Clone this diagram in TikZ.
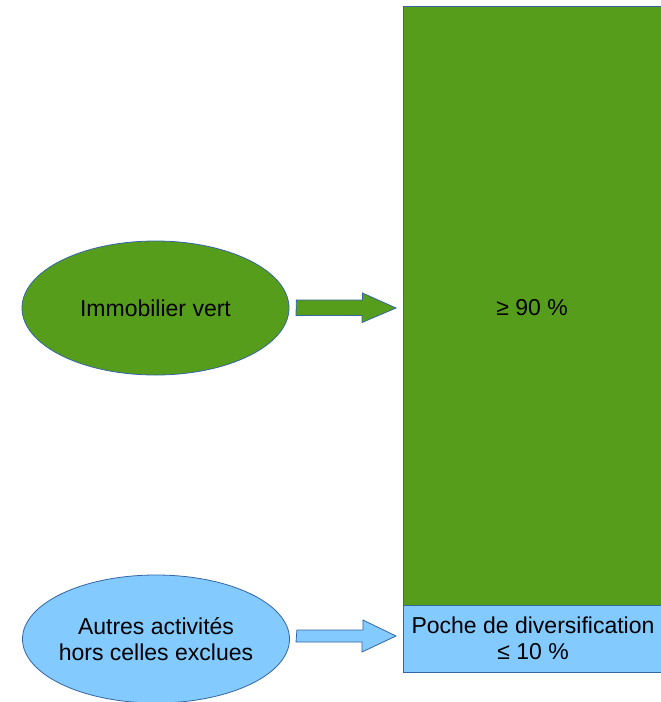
\documentclass[tikz,border=0pt]{standalone}
\usepackage{fontspec}
\setmainfont{Liberation Sans}
\usetikzlibrary{shapes.geometric}
\definecolor{vert}{HTML}{579D1C}
\definecolor{bleu}{HTML}{83CAFF}
\definecolor{bord}{HTML}{3465A4}
\begin{document}
\begin{tikzpicture}[x=1pt,y=-1pt,
  lbl/.style={font=\fontsize{23}{26}\selectfont,align=center,text=black},
  ell/.style={ellipse,draw=bord,line width=0.8pt,inner sep=0pt},
  blk/.style={draw=bord,line width=0.8pt}]
\useasboundingbox (0,0) rectangle (661,702);
% big bar
\draw[blk,fill=vert] (403,6) rectangle (670,605);
\draw[blk,fill=bleu] (403,605) rectangle (670,672);
\node[lbl] (pct90) at (532,308) {≥ 90 \%};
\node[lbl] (poche) at (533,638.5) {Poche de diversification\\≤ 10 \%};
\coordinate (barg) at (396,308);
\coordinate (barb) at (396,636);
% ellipses
\node[ell,fill=vert,minimum width=267pt,minimum height=134pt] (immo) at (155.5,308) {};
\node[lbl] at (immo) {Immobilier vert};
\node[ell,fill=bleu,minimum width=267pt,minimum height=128pt] (autres) at (156,639) {};
\node[lbl] at (autres) {Autres activités\\hors celles exclues};
% block arrows
\draw[blk,fill=vert] ([xshift=7pt]immo.east) ++(0,-8) -- ++(66,0) -- ++(0,-7) -- (barg) -- ++(-34,14.5) -- ++(0,-7) -- ++(-66,0) -- cycle;
\draw[blk,fill=bleu] ([xshift=7pt]autres.east |- barb) ++(0,-6) -- ++(66,0) -- ++(0,-10) -- (barb) -- ++(-34,16) -- ++(0,-10) -- ++(-66,0) -- cycle;
\end{tikzpicture}
\end{document}
